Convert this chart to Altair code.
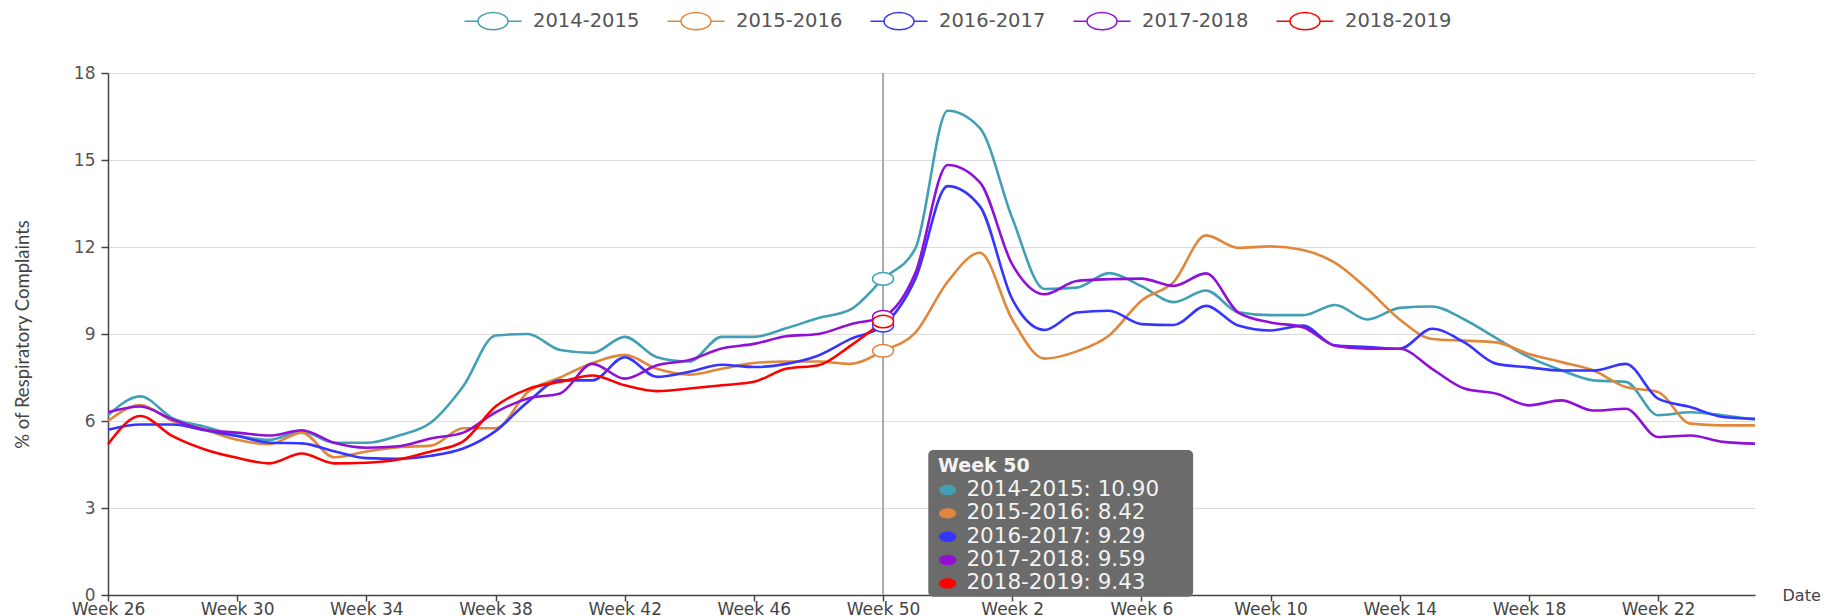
import json
import altair as alt
import pandas as pd

# ---------------- data ----------------
weeks = [f"Week {w}" for w in list(range(26, 53)) + list(range(1, 26))]
seasons = ["2014-2015", "2015-2016", "2016-2017", "2017-2018", "2018-2019"]
colors = ["#42a0b6", "#e0873c", "#3535ff", "#9010d8", "#ff0000"]

v_2014_2015 = [6.2, 6.85, 6.1, 5.8, 5.5, 5.35, 5.65, 5.25, 5.25, 5.5,
               5.95, 7.2, 8.95, 9.0, 8.45, 8.35, 8.9, 8.2, 8.05, 8.9,
               8.9, 9.2, 9.55, 9.85, 10.9, 11.95, 16.7, 16.1, 13.0, 10.55,
               10.6, 11.1, 10.65, 10.1, 10.5, 9.75, 9.65, 9.65, 10.0, 9.5,
               9.9, 9.95, 9.5, 8.85, 8.2, 7.75, 7.4, 7.35, 6.2, 6.3,
               6.2, 6.05]
v_2015_2016 = [6.0, 6.55, 6.0, 5.7, 5.35, 5.2, 5.6, 4.75, 4.95, 5.1,
               5.15, 5.75, 5.75, 7.0, 7.5, 8.0, 8.28, 7.8, 7.6, 7.8,
               8.0, 8.05, 8.05, 7.97, 8.42, 9.05, 10.8, 11.8, 9.5, 8.15,
               8.4, 8.95, 10.15, 10.8, 12.4, 11.97, 12.02, 11.9, 11.45, 10.55,
               9.5, 8.83, 8.77, 8.71, 8.31, 8.03, 7.74, 7.17, 7.0, 5.91,
               5.85, 5.85]
v_2016_2017 = [5.7, 5.88, 5.88, 5.68, 5.48, 5.25, 5.23, 4.96, 4.72, 4.7,
               4.8, 5.05, 5.65, 6.66, 7.4, 7.4, 8.2, 7.52, 7.7, 7.94,
               7.86, 7.97, 8.26, 8.83, 9.29, 10.9, 14.1, 13.4, 10.2, 9.14,
               9.74, 9.8, 9.34, 9.31, 9.97, 9.29, 9.12, 9.29, 8.6, 8.55,
               8.49, 9.18, 8.71, 7.97, 7.85, 7.74, 7.74, 7.97, 6.77, 6.48,
               6.14, 6.08]
v_2017_2018 = [6.3, 6.5, 6.05, 5.7, 5.6, 5.5, 5.68, 5.25, 5.08, 5.13,
               5.4, 5.6, 6.3, 6.78, 6.95, 7.97, 7.46, 7.92, 8.1, 8.5,
               8.66, 8.92, 9.0, 9.34, 9.59, 11.1, 14.83, 14.23, 11.4, 10.37,
               10.83, 10.89, 10.91, 10.66, 11.09, 9.74, 9.4, 9.23, 8.6, 8.49,
               8.49, 7.8, 7.12, 6.94, 6.54, 6.71, 6.36, 6.42, 5.45, 5.5,
               5.28, 5.22]
v_2018_2019 = [5.2, 6.17, 5.48, 5.02, 4.73, 4.54, 4.88, 4.54, 4.56, 4.67,
               4.95, 5.3, 6.5, 7.1, 7.35, 7.57, 7.23, 7.03, 7.12, 7.23,
               7.35, 7.8, 7.92, 8.6, 9.43]

hover_week = "Week 50"
y_ticks = [0, 3, 6, 9, 12, 15, 18]

series = dict(zip(seasons, [v_2014_2015, v_2015_2016, v_2016_2017,
                            v_2017_2018, v_2018_2019]))
season_color = dict(zip(seasons, colors))
rows = []
for s, vals in series.items():
    for i, v in enumerate(vals):
        rows.append({"idx": i, "week": weeks[i], "season": s, "value": v,
                     "hex": season_color[s]})
df = pd.DataFrame(rows)
hi = weeks.index(hover_week)
df_hi = df[df.idx == hi].copy()

# ---------------- layout ----------------
W, H = 1647, 522
FONT = "DejaVu Sans"
color_scale = alt.Scale(domain=seasons, range=colors)
x_scale = alt.Scale(domain=[0, len(weeks) - 1], nice=False, zero=False)
y_scale = alt.Scale(domain=[0, 18], nice=False)

legend_path = ("M-2.375,0L-1.25,0M1.25,0L2.375,0"
               "M1.25,0A1.25,0.72,0,1,1,-1.25,0A1.25,0.72,0,1,1,1.25,0Z")
ellipse = "M1,0A1,0.6,0,1,1,-1,0A1,0.6,0,1,1,1,0Z"

label_expr = f"{json.dumps(weeks)}[datum.value]"
x_axis = alt.Axis(
    values=list(range(0, len(weeks), 4)), labelExpr=label_expr,
    title="Date", titleX=W + 27, titleY=0, titleAlign="left",
    titleBaseline="middle", titleFontWeight="normal", titleFontSize=16,
    titleColor="#444", titleFont=FONT, labelFlush=False,
    labelOverlap=False, grid=False, tickSize=6, labelPadding=0,
    labelFontSize=17, labelFont=FONT, labelColor="#444",
    domainColor="#444", domainWidth=1.5, tickColor="#444", tickWidth=1.5,
)
y_axis = alt.Axis(
    values=y_ticks, title="% of Respiratory Complaints",
    titleX=-86, titleY=H / 2, titleAngle=-90, titleAlign="center",
    titleBaseline="middle", titleFont="Lato",
    titleFontSize=18.5, titleFontWeight="normal", titleColor="#444",
    grid=True, gridColor="#dcdcdc", gridWidth=1.2, tickSize=7,
    labelPadding=6, labelFontSize=17, labelFont=FONT, labelColor="#555",
    domainColor="#444", domainWidth=1.5, tickColor="#444", tickWidth=1.5,
)
x_enc = alt.X("idx:Q", scale=x_scale, axis=x_axis)
y_enc = alt.Y("value:Q", scale=y_scale, axis=y_axis)

lines = alt.Chart(df).mark_line(interpolate="monotone", strokeWidth=2.6).encode(
    x=x_enc, y=y_enc,
    stroke=alt.Stroke(
        "season:N", scale=color_scale,
        legend=alt.Legend(
            orient="none", legendX=372, legendY=-65, direction="horizontal",
            title=None, symbolType=legend_path, symbolSize=576,
            symbolStrokeWidth=1.5, symbolFillColor="white", symbolOpacity=1,
            labelFont=FONT, labelFontSize=19.5, labelColor="#555",
            labelOffset=27, columnPadding=24,
        ),
    ),
)

rule = alt.Chart(df_hi.head(1)).mark_rule(color="#aaaaaa", strokeWidth=2).encode(
    x=x_enc
)

hi_points = alt.Chart(df_hi).mark_point(
    shape=ellipse, size=441, filled=False, fill="white", fillOpacity=1,
    strokeWidth=1.5, opacity=1
).encode(x=x_enc, y=y_enc,
         stroke=alt.Stroke("hex:N", scale=None))

# tooltip-like annotation box
box_df = pd.DataFrame([{"idx": hi + 1.4, "idx_end": hi + 9.6,
                        "value": -0.06, "value_end": 5.0}])
box = alt.Chart(box_df).mark_rect(color="#6b6b6b", cornerRadius=5).encode(
    x=x_enc, x2=alt.X2("idx_end"), y=y_enc, y2=alt.Y2("value_end")
)

head_df = pd.DataFrame([{"idx": hi + 1.7, "value": 4.45, "label": hover_week}])
head = alt.Chart(head_df).mark_text(
    align="left", baseline="middle", font=FONT, fontSize=19,
    fontWeight="bold", color="#f2f2f2"
).encode(x=x_enc, y=y_enc, text="label:N")

tt_rows = []
for k, (s, vals) in enumerate(series.items()):
    tt_rows.append({"season": s, "hex": season_color[s],
                    "value": 3.62 - k * 0.805,
                    "dot": hi + 2.0, "txt": hi + 2.58,
                    "label": f"{s}: {vals[hi]:.2f}"})
tt_df = pd.DataFrame(tt_rows)

tt_dots = alt.Chart(tt_df).mark_point(
    shape=ellipse, size=300, filled=True, opacity=1, strokeWidth=0
).encode(
    x=alt.X("dot:Q", scale=x_scale, axis=x_axis), y=y_enc,
    fill=alt.Fill("hex:N", scale=None),
)
tt_text = alt.Chart(tt_df).mark_text(
    align="left", baseline="middle", font=FONT, fontSize=21.5, color="#f2f2f2"
).encode(x=alt.X("txt:Q", scale=x_scale, axis=x_axis), y=y_enc, text="label:N")

chart = alt.layer(rule, lines, hi_points, box, head, tt_dots, tt_text).properties(
    width=W, height=H,
    autosize=alt.AutoSizeParams(type="none"),
    padding={"left": 100, "top": 65, "right": 80, "bottom": 21},
    background="white",
).configure_view(stroke=None)

chart.save("out.html", embed_options={"renderer": "svg", "actions": False})
